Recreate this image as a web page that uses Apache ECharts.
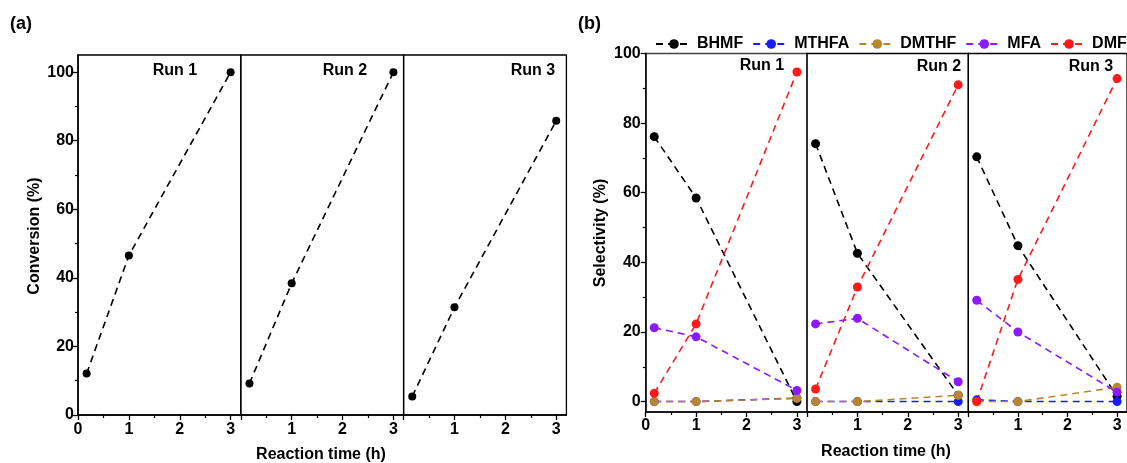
<!DOCTYPE html>
<html>
<head>
<meta charset="utf-8">
<script src="https://cdn.jsdelivr.net/npm/echarts@6/dist/echarts.min.js"></script>
<style>html,body{margin:0;padding:0;background:#fff}#c{width:1127px;height:463px}</style>
</head>
<body>
<div id="c"></div>
<script>
// ---- data ----
const timeH = [0.17, 1, 3];
const runNames = ['Run 1', 'Run 2', 'Run 3'];
const xTicks = [0, 1, 2, 3];
const xMinorTicks = [0.5, 1.5, 2.5];
const yTicks = [0, 20, 40, 60, 80, 100];
const yMinorTicks = [10, 30, 50, 70, 90];

const conversionRun1 = [12.1, 46.5, 100];
const conversionRun2 = [9.2, 38.4, 100];
const conversionRun3 = [5.4, 31.4, 85.8];

const products = ['BHMF', 'MTHFA', 'DMTHF', 'MFA', 'DMF'];
const selBHMF  = [[76.1, 58.5, 0.0], [74.1, 42.6, 1.8], [70.3, 44.8, 1.5]];
const selMTHFA = [[0.0, 0.0, 1.0], [0.0, 0.0, 0.0], [0.5, 0.0, 0.0]];
const selDMTHF = [[0.0, 0.0, 0.9], [0.0, 0.0, 1.8], [0.0, 0.0, 4.1]];
const selMFA   = [[21.2, 18.6, 3.2], [22.3, 23.9, 5.7], [29.1, 20.0, 2.7]];
const selDMF   = [[2.4, 22.3, 94.7], [3.6, 32.9, 91.0], [0.0, 35.1, 92.8]];

// ---- styling ----
const FONT = 'Arial, "Liberation Sans", sans-serif';
const productColors = ['#000000', '#1a1aff', '#b8862e', '#8c1aff', '#ff1a1a'];
const selByProduct = [selBHMF, selMTHFA, selDMTHF, selMFA, selDMF];
const conversions = [conversionRun1, conversionRun2, conversionRun3];

const grids = [];
for (let i = 0; i < 3; i++) grids.push({left: 78 + i * 162.8, top: 55, width: 162.8, height: 360});
for (let i = 0; i < 3; i++) grids.push({left: 645.7 + i * 161.3, top: 53.5, width: 161.3, height: 358.5});
grids.forEach((g, k) => {
  g.show = true;
  g.borderColor = (k === 3) ? '#444' : '#000';
  g.borderWidth = 1.3;
  g.backgroundColor = 'transparent';
  g.containLabel = false;
});

const lbl = {fontSize: 16, fontWeight: 'bold', color: '#000', fontFamily: FONT};
const xAxes = [], yAxes = [];
for (let k = 0; k < 6; k++) {
  const first = (k % 3 === 0);
  const panelB = k >= 3;
  xAxes.push({
    gridIndex: k, type: 'value', min: 0, max: 3.2, position: 'bottom',
    axisLine: {show: true, onZero: false, lineStyle: {color: '#000', width: 1.5}},
    axisTick: {show: true, customValues: xTicks, length: 5, lineStyle: {color: '#000', width: 1.3}},
    axisLabel: Object.assign({show: true, customValues: first ? xTicks : xTicks.slice(1), margin: panelB ? 6 : 7}, lbl),
    splitLine: {show: false}
  });
  xAxes.push({
    gridIndex: k, type: 'value', min: 0, max: 3.2, position: 'bottom',
    axisLine: {show: false, onZero: false},
    axisTick: {show: true, customValues: xMinorTicks, length: 3, lineStyle: {color: '#000', width: 1.2}},
    axisLabel: {show: false},
    splitLine: {show: false}
  });
  const yMin = panelB ? -3 : 0, yMax = panelB ? 100 : 105;
  yAxes.push({
    gridIndex: k, type: 'value', min: yMin, max: yMax, position: 'left', show: first,
    axisLine: {show: true, onZero: false, lineStyle: {color: '#000', width: 1.5}},
    axisTick: {show: true, customValues: yTicks, length: 5, lineStyle: {color: '#000', width: 1.3}},
    axisLabel: Object.assign({show: true, customValues: yTicks, margin: panelB ? 5 : 4}, lbl),
    splitLine: {show: false}
  });
  yAxes.push({
    gridIndex: k, type: 'value', min: yMin, max: yMax, position: 'left', show: first,
    axisLine: {show: false, onZero: false},
    axisTick: {show: true, customValues: yMinorTicks, length: 3, lineStyle: {color: '#000', width: 1.2}},
    axisLabel: {show: false},
    splitLine: {show: false}
  });
}

const series = [];
conversions.forEach((arr, r) => {
  series.push({
    name: 'Conversion ' + runNames[r], type: 'line',
    xAxisIndex: 2 * r, yAxisIndex: 2 * r,
    data: timeH.map((t, i) => [t, arr[i]]),
    symbol: 'circle', symbolSize: 8,
    itemStyle: {color: '#000'},
    lineStyle: {color: '#000', width: 1.6, type: [7, 5]}
  });
});
for (let r = 0; r < 3; r++) {
  products.forEach((p, j) => {
    series.push({
      name: p, type: 'line',
      xAxisIndex: 2 * (3 + r), yAxisIndex: 2 * (3 + r),
      data: timeH.map((t, i) => [t, selByProduct[j][r][i]]),
      symbol: 'circle', symbolSize: 9,
      itemStyle: {color: productColors[j]},
      lineStyle: {color: productColors[j], width: 1.6, type: [7, 5]}
    });
  });
}

function txt(x, y, text, size, rot, align) {
  return {type: 'text', x: x, y: y, rotation: rot || 0, silent: true,
    style: {text: text, fontSize: size, fontWeight: 'bold', fill: '#000', fontFamily: FONT,
      align: align || 'center', verticalAlign: 'middle'}};
}
const graphics = [
  txt(10, 24, '(a)', 18, 0, 'left'),
  txt(578, 24, '(b)', 18, 0, 'left'),
  txt(175, 71, runNames[0], 16), txt(345, 71, runNames[1], 16), txt(533, 71, runNames[2], 16),
  txt(762, 66, runNames[0], 16), txt(939, 67, runNames[1], 16), txt(1091, 67, runNames[2], 16),
  txt(321, 455, 'Reaction time (h)', 16), txt(886, 452, 'Reaction time (h)', 16),
  txt(35, 236, 'Conversion (%)', 16, Math.PI / 2), txt(601, 233, 'Selectivity (%)', 16, Math.PI / 2)
];

const chart = echarts.init(document.getElementById('c'), null, {renderer: 'canvas'});
chart.setOption({
  animation: false,
  backgroundColor: '#fff',
  grid: grids,
  xAxis: xAxes,
  yAxis: yAxes,
  legend: {
    data: products, top: 36, left: 655, width: 472, padding: 0, orient: 'horizontal',
    itemWidth: 36, itemHeight: 12, itemGap: 9,
    textStyle: {fontSize: 16, fontWeight: 'bold', color: '#000', fontFamily: FONT}
  },
  graphic: graphics,
  series: series
});
</script>
</body>
</html>
